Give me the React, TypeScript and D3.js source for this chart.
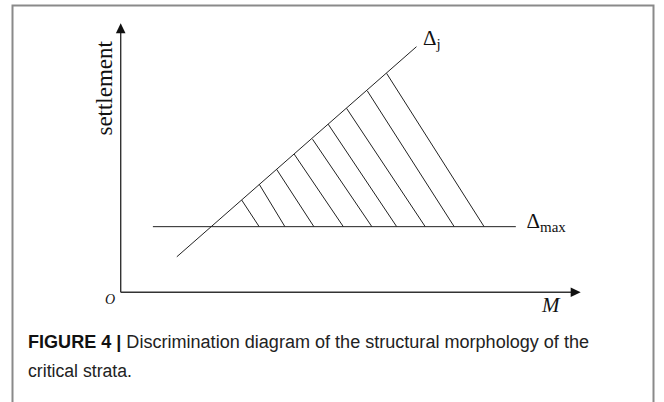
import React from "react";
import * as d3 from "d3";

// schematic units: the axes run 0..100 in both directions
const axisX = [0, 100];
const axisY = [0, 100];

// Δmax horizontal level and where its line starts / stops
const deltaMaxLevel = 24.4;
const deltaMaxSpan = [7.0, 85.9];

// Δj rising line (two ends)
const deltaJLine: [number, number][] = [
  [12.2, 13.2],
  [64.3, 91.3],
];

// hatch strokes: start on the Δj line, end on the Δmax line
const hatchTopX = [26.3, 30.1, 33.9, 37.7, 41.7, 45.1, 49.1, 53.6, 57.8];
const hatchTopY = [34.3, 40.2, 45.7, 51.4, 56.9, 62.5, 68.4, 74.9, 81.4];
const hatchBottomX = [30.1, 35.7, 42.0, 48.4, 54.6, 60.0, 66.2, 72.5, 79.0];

const captionBold = "FIGURE 4 | ";
const captionLine1 = "Discrimination diagram of the structural morphology of the";
const captionLine2 = "critical strata.";

const W = 664;
const H = 402;

export default function App() {
  const x = d3.scaleLinear().domain(axisX).range([120.7, 580.7]);
  const y = d3.scaleLinear().domain(axisY).range([292.3, 23.3]);

  const line = d3
    .line<[number, number]>()
    .x((d) => x(d[0]))
    .y((d) => y(d[1]));

  const x0 = x(axisX[0]);
  const x1 = x(axisX[1]);
  const y0 = y(axisY[0]);
  const y1 = y(axisY[1]);

  const serif = "'Liberation Serif', 'DejaVu Serif', serif";
  const sans = "'Liberation Sans Narrow', 'Liberation Sans', Arial, sans-serif";
  const ink = "#222";

  return (
    <div style={{ position: "absolute", left: 0, top: 0 }}>
      <svg width={W} height={H} style={{ display: "block", background: "#fff" }}>
        {/* frame */}
        <path d={`M12.5,${H} V5.5 H653.5 V${H}`} fill="none" stroke="#8a8a8a" strokeWidth={2} />

        {/* axes */}
        <line x1={x0} y1={y0} x2={x0} y2={y1 + 9} stroke="#333" strokeWidth={1.4} />
        <path d={`M${x0},${y1} L${x0 - 4.8},${y1 + 10} L${x0 + 4.8},${y1 + 10} Z`} fill="#111" />
        <line x1={x0} y1={y0} x2={x1 - 9} y2={y0} stroke="#333" strokeWidth={1.4} />
        <path d={`M${x1},${y0} L${x1 - 10},${y0 - 4.8} L${x1 - 10},${y0 + 4.8} Z`} fill="#111" />

        {/* Δmax level */}
        <line
          x1={x(deltaMaxSpan[0])}
          x2={x(deltaMaxSpan[1])}
          y1={y(deltaMaxLevel)}
          y2={y(deltaMaxLevel)}
          stroke={ink}
          strokeWidth={1}
        />

        {/* Δj line */}
        <path d={line(deltaJLine) ?? ""} fill="none" stroke={ink} strokeWidth={1} />

        {/* hatching */}
        {hatchTopX.map((tx, i) => (
          <path
            key={i}
            d={
              line([
                [tx, hatchTopY[i]],
                [hatchBottomX[i], deltaMaxLevel],
              ]) ?? ""
            }
            fill="none"
            stroke={ink}
            strokeWidth={1}
          />
        ))}

        {/* labels */}
        <text
          transform={`translate(111.5,88.3) rotate(-90)`}
          textAnchor="middle"
          fontFamily={serif}
          fontSize={23}
          fill="#111"
        >
          settlement
        </text>
        <text x={105} y={304} fontFamily={serif} fontStyle="italic" fontSize={14} fill="#111">
          O
        </text>
        <text x={542} y={311.7} fontFamily={serif} fontStyle="italic" fontSize={21} fill="#111">
          M
        </text>
        <text x={423} y={45} fontFamily={serif} fontSize={21} fill="#111">
          Δ
          <tspan fontSize={15} dy={4}>
            j
          </tspan>
        </text>
        <text x={526.5} y={228.3} fontFamily={serif} fontSize={21} fill="#111">
          Δ
          <tspan fontSize={15} dy={3.5}>
            max
          </tspan>
        </text>

        {/* caption */}
        <text
          x={28}
          y={348}
          fontFamily={sans}
          fontSize={18}
          fill="#222"
          textLength={561}
          lengthAdjust="spacingAndGlyphs"
        >
          <tspan fontWeight="bold" fill="#111">
            {captionBold}
          </tspan>
          {captionLine1}
        </text>
        <text
          x={28}
          y={377}
          fontFamily={sans}
          fontSize={18}
          fill="#222"
          textLength={104}
          lengthAdjust="spacingAndGlyphs"
        >
          {captionLine2}
        </text>
      </svg>
    </div>
  );
}
